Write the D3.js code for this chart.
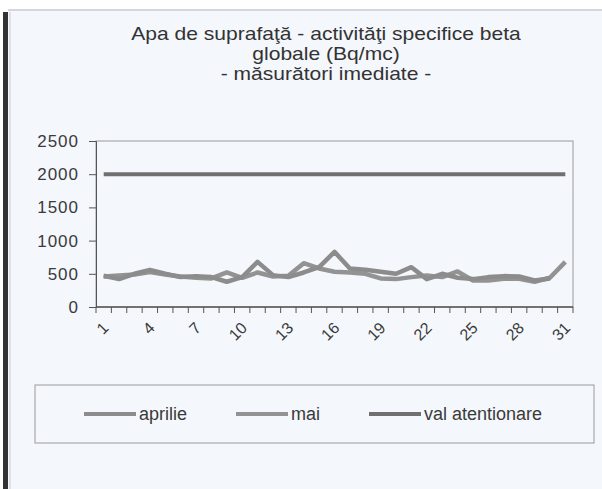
<!DOCTYPE html>
<html>
<head>
<meta charset="utf-8">
<script src="https://cdn.jsdelivr.net/npm/d3@7"></script>
<style>
  body { margin: 0; background: #ffffff; }
  svg { display: block; font-family: "Liberation Sans", Arial, sans-serif; }
</style>
</head>
<body>
<svg id="chart" width="602" height="489"></svg>
<script>
// days of the month
var days = d3.range(1, 32);
var dayTicks = [1, 4, 7, 10, 13, 16, 19, 22, 25, 28, 31];
// values (Bq/mc)
var aprilie = [470, 420, 500, 560, 500, 450, 465, 450, 380, 450, 680, 480, 450, 520, 600,
               830, 580, 560, 530, 500, 600, 420, 500, 440, 420, 450, 465, 460, 400, 430, null];
var mai = [460, 475, 490, 525, 490, 460, 440, 430, 520, 440, 520, 460, 470, 660, 580,
           530, 520, 500, 430, 420, 450, 475, 450, 535, 400, 400, 425, 425, 380, 440, 680];
var valAtentionare = days.map(function () { return 2000; });
var yTicks = [0, 500, 1000, 1500, 2000, 2500];
var titleLines = ["Apa de suprafaţă - activităţi specifice beta", "globale (Bq/mc)", "- măsurători imediate -"];

var series = [
  { name: "aprilie", values: aprilie, color: "#8c8c8c", w: 4.5 },
  { name: "mai", values: mai, color: "#939393", w: 4.5 },
  { name: "val atentionare", values: valAtentionare, color: "#707070", w: 4 }
];

var svg = d3.select("#chart");

// chart frame
svg.append("rect").attr("x", 8).attr("y", 10).attr("width", 594).attr("height", 479)
  .attr("fill", "#f4f7fb");
svg.append("line").attr("x1", 8).attr("x2", 602).attr("y1", 10).attr("y2", 10)
  .attr("stroke", "#c8cacd").attr("stroke-width", 1.5);
svg.append("rect").attr("x", 3).attr("y", 12).attr("width", 5).attr("height", 477)
  .attr("fill", "#333333");
svg.append("line").attr("x1", 10).attr("x2", 10).attr("y1", 12).attr("y2", 489)
  .attr("stroke", "#c8cacd");

// title (the scan is a bit stretched sideways)
svg.append("g").attr("transform", "translate(326,0) scale(1.17,1)")
  .append("text").attr("x", 0).attr("y", 40)
  .attr("text-anchor", "middle").attr("font-size", 18).attr("fill", "#333")
  .selectAll("tspan").data(titleLines).enter().append("tspan")
  .attr("x", 0).attr("dy", function (d, i) { return i ? 20 : 0; })
  .text(function (d) { return d; });

var pLeft = 96, pRight = 573, pTop = 141, pBottom = 307;

var x = d3.scaleBand().domain(days).range([pLeft, pRight]);
var y = d3.scaleLinear().domain([0, 2500]).range([pBottom, pTop]);

// plot area border
svg.append("rect").attr("x", pLeft).attr("y", pTop)
  .attr("width", pRight - pLeft).attr("height", pBottom - pTop)
  .attr("fill", "none").attr("stroke", "#9a9a9a");

// y axis
var yAxis = svg.append("g").attr("transform", "translate(" + pLeft + ",0)")
  .call(d3.axisLeft(y).tickValues(yTicks).tickFormat(d3.format("d")).tickSize(7).tickPadding(10));
yAxis.select(".domain").attr("stroke", "#555");
yAxis.selectAll(".tick line").attr("stroke", "#555");
yAxis.selectAll("text").attr("font-size", 17).attr("fill", "#3a3a3a")
  .attr("font-family", "Liberation Sans, Arial, sans-serif")
  .attr("letter-spacing", 1);

// x axis: ticks on category boundaries
var xa = svg.append("g");
xa.append("line").attr("x1", pLeft).attr("x2", pRight).attr("y1", pBottom).attr("y2", pBottom)
  .attr("stroke", "#555").attr("stroke-width", 1.5);
xa.selectAll("line.tk").data(d3.range(days.length + 1)).enter().append("line")
  .attr("class", "tk")
  .attr("x1", function (i) { return pLeft + i * x.step(); })
  .attr("x2", function (i) { return pLeft + i * x.step(); })
  .attr("y1", pBottom).attr("y2", pBottom + 6)
  .attr("stroke", "#555");
xa.selectAll("text").data(dayTicks).enter().append("text")
  .attr("transform", function (d) {
    return "translate(" + (x(d) + x.bandwidth() / 2 - 2) + "," + (pBottom + 14) + ") rotate(-45)";
  })
  .attr("text-anchor", "end").attr("dy", "0.7em")
  .attr("font-size", 16).attr("fill", "#3a3a3a")
  .text(function (d) { return d; });

// lines
var line = d3.line()
  .defined(function (d) { return d != null; })
  .x(function (d, i) { return x(days[i]) + x.bandwidth() / 2; })
  .y(function (d) { return y(d); });

svg.selectAll("path.series").data(series.slice().reverse()).enter().append("path")
  .attr("class", "series")
  .attr("d", function (s) { return line(s.values); })
  .attr("fill", "none")
  .attr("stroke", function (s) { return s.color; })
  .attr("stroke-width", function (s) { return s.w; })
  .attr("stroke-linejoin", "round");

// legend
svg.append("rect").attr("x", 35).attr("y", 385).attr("width", 559).attr("height", 58)
  .attr("fill", "none").attr("stroke", "#9a9a9a");
var legX = [84, 236, 369];
var leg = svg.selectAll("g.leg").data(series).enter().append("g")
  .attr("class", "leg")
  .attr("transform", function (s, i) { return "translate(" + legX[i] + ",414)"; });
leg.append("line").attr("x1", 0).attr("x2", 52).attr("y1", 0).attr("y2", 0)
  .attr("stroke", function (s) { return s.color; }).attr("stroke-width", 4);
leg.append("text").attr("x", 55).attr("dy", "0.35em")
  .attr("font-size", 18).attr("fill", "#3a3a3a")
  .text(function (s) { return s.name; });
</script>
</body>
</html>
